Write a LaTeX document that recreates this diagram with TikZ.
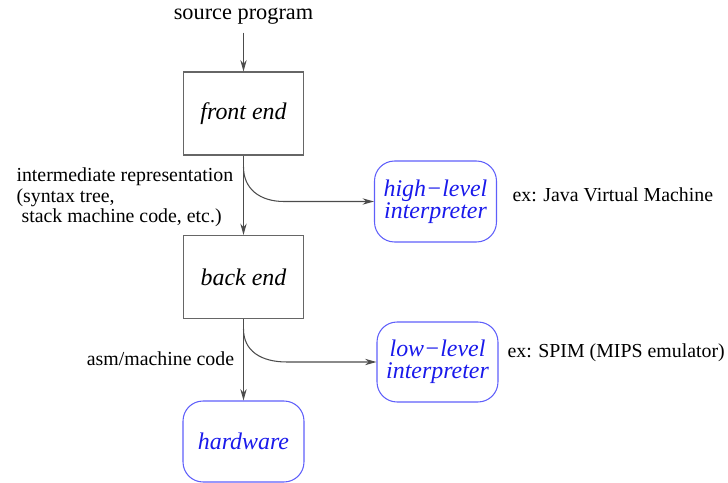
\documentclass[tikz,border=0pt]{standalone}
\usepackage{fontspec}
\setmainfont{Liberation Serif}
\usetikzlibrary{arrows.meta}
\definecolor{iblue}{RGB}{95,95,250}
\definecolor{tblue}{RGB}{25,25,235}

\begin{document}
\begin{tikzpicture}[x=0.02cm,y=-0.02cm,>={Stealth[length=6.5pt,width=3.6pt]},line width=0.6pt,
  box/.style={draw=black!60,minimum width=2.4cm,minimum height=1.66cm,font=\fontsize{13.6}{12.5}\selectfont\itshape},
  ibox/.style={draw=iblue,rounded corners=0.4cm,minimum width=2.44cm,minimum height=1.62cm,align=center,inner sep=0pt,text=tblue,font=\fontsize{13.6}{12.5}\selectfont\itshape},
  lbl/.style={inner sep=0pt,font=\fontsize{11.3}{11.6}\selectfont},
  flow/.style={->,draw=black!70}]
	\useasboundingbox (0,0) rectangle (728,483);

	\node[inner sep=0pt,font=\fontsize{12.7}{14}\selectfont] (src) at (243.5,16) {source program};
	\node[box] (fe) at (243.5,113.5) {front end};
	\node[box] (be) at (243.5,277) {back end};
	\node[ibox,minimum width=2.42cm] (hw) at (243.5,441.5) {hardware};
	\node[ibox] (hi) at (435.5,201.5) {high−level\\interpreter};
	\node[ibox,minimum width=2.42cm,minimum height=1.6cm] (lo) at (437.5,362) {low−level\\interpreter};

	\node[lbl,anchor=west,align=left] (ir) at (16,197.5) {intermediate representation\\(syntax tree,\\\hspace{0.1cm}stack machine code, etc.)};
	\node[lbl] (asm) at (160.5,359) {asm/machine code};
	\node[lbl,anchor=west] (jvm) at (512,195) {ex: Java Virtual Machine};
	\node[lbl,anchor=west] (spim) at (507,353) {ex: SPIM (MIPS emulator)};

	\coordinate (s1) at (243.5,167);
	\coordinate (k1) at (284,201.5);
	\coordinate (s2) at (243.5,329);
	\coordinate (k2) at (287,362);

	\draw[flow,shorten <=0.16cm] (src) -- (fe);
	\draw[flow] (fe) -- (be);
	\draw[flow] (be) -- (hw);
	\draw[flow] (s1) .. controls +(0,22) and +(-24,0) .. (k1) -- (hi);
	\draw[flow] (s2) .. controls +(0,22) and +(-26,0) .. (k2) -- (lo);
\end{tikzpicture}
\end{document}
